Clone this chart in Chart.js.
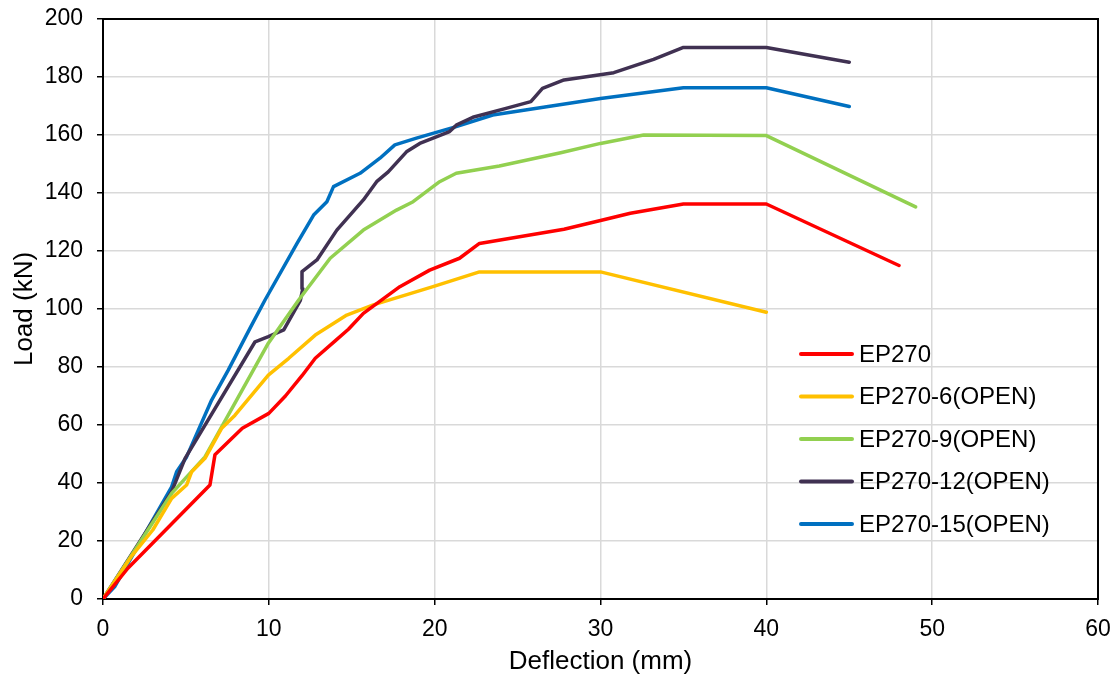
<!DOCTYPE html>
<html lang="en">

<head>
    <meta charset="UTF-8">
    <title>Load - Deflection</title>
    <script src="https://cdn.jsdelivr.net/npm/chart.js@4"></script>
    <style>
        body { margin: 0; background: #fff; }
    </style>
</head>

<body>
    <canvas id="loadChart" width="1116" height="677"></canvas>

    <script>
        // series names
        const seriesNames = ['EP270', 'EP270-6(OPEN)', 'EP270-9(OPEN)', 'EP270-12(OPEN)', 'EP270-15(OPEN)'];
        const seriesColors = ['#FF0000', '#FFC000', '#92D050', '#403152', '#0070C0'];

        // deflection (mm) / load (kN)
        const ep270Defl = [0, 1.5, 6.45, 6.75, 8.4, 10.0, 11.0, 12.0, 12.8, 14.0, 14.8, 15.7, 17.9, 19.7, 21.5, 22.7, 27.8, 30.0, 31.8, 35.0, 40.0, 48.0];
        const ep270Load = [0, 10.6, 39.3, 49.7, 58.9, 64, 70, 77, 83, 89, 93, 98.5, 107.7, 113.4, 117.5, 122.6, 127.5, 130.5, 133, 136.2, 136.2, 115];

        const ep270_6Defl = [0, 1.7, 3.0, 4.14, 5.04, 5.35, 6.15, 7.16, 7.96, 9.97, 11.2, 12.8, 14.7, 16.3, 19.9, 22.7, 30.0, 40.0];
        const ep270_6Load = [0, 14.6, 23.8, 34.7, 39.3, 43.9, 48.5, 58.9, 63.4, 77.2, 83, 91, 97.9, 101.4, 107.7, 112.8, 112.8, 98.9];

        const ep270_9Defl = [0, 4.14, 6.15, 9.97, 11.8, 13.7, 15.7, 17.7, 18.7, 20.3, 21.3, 23.9, 27.6, 30.0, 32.6, 40.0, 49.0];
        const ep270_9Load = [0, 36.4, 49, 88.2, 103.1, 117.5, 127.2, 134.1, 137, 143.9, 146.8, 149.3, 153.9, 157.1, 160, 159.8, 135.2];

        const ep270_12Defl = [0, 4.14, 4.95, 9.17, 9.97, 10.9, 11.9, 12.05, 12.0, 12.9, 14.1, 15.7, 16.5, 17.2, 18.3, 19.1, 20.9, 21.3, 22.3, 24.3, 25.8, 26.5, 27.8, 30.8, 33.2, 35.0, 40.0, 45.0];
        const ep270_12Load = [0, 37, 48.5, 88.7, 90.5, 92.8, 103, 107, 112.9, 116.9, 127.2, 137.6, 143.9, 147.3, 154.2, 157.1, 161.2, 163.4, 166.1, 169.2, 171.5, 176.1, 179, 181.5, 186.1, 190.2, 190.2, 185.1];

        const ep270_15Defl = [0, 0.7, 4.14, 4.44, 5.04, 6.55, 7.56, 8.86, 9.77, 11.7, 12.7, 13.5, 13.9, 15.5, 16.7, 17.6, 18.9, 21.3, 23.5, 30.0, 35.0, 40.0, 45.0];
        const ep270_15Load = [0, 4.2, 38.7, 43.9, 49, 68.6, 79, 93.3, 103.1, 122.6, 132.4, 137, 142.2, 146.8, 152, 156.6, 158.9, 162.9, 166.9, 172.6, 176.3, 176.3, 169.8];

        const allDefl = [ep270Defl, ep270_6Defl, ep270_9Defl, ep270_12Defl, ep270_15Defl];
        const allLoad = [ep270Load, ep270_6Load, ep270_9Load, ep270_12Load, ep270_15Load];

        const FONT = "'Liberation Sans', Arial, sans-serif";

        function toPoints(xs, ys) {
            return xs.map((x, i) => ({ x: x, y: ys[i] }));
        }

        // drop the extra room chart.js keeps for overhanging tick labels
        function noScalePadding(scale) {
            scale.paddingTop = 0;
            scale.paddingBottom = 0;
            scale.paddingLeft = 0;
            scale.paddingRight = 0;
        }

        // legend drawn inside the plot, Excel style
        const insideLegend = {
            id: 'insideLegend',
            afterDraw(chart) {
                const { ctx } = chart;
                ctx.save();
                ctx.font = '24px ' + FONT;
                ctx.textBaseline = 'middle';
                ctx.textAlign = 'left';
                chart.data.datasets.forEach((ds, i) => {
                    const y = 354 + i * 42.5;
                    ctx.strokeStyle = ds.borderColor;
                    ctx.lineWidth = 4;
                    ctx.lineCap = 'round';
                    ctx.beginPath();
                    ctx.moveTo(801, y);
                    ctx.lineTo(852, y);
                    ctx.stroke();
                    ctx.fillStyle = '#000';
                    ctx.fillText(ds.label, 859, y + 1);
                });
                ctx.restore();
            }
        }

        // black frame round the plot area
        const plotFrame = {
            id: 'plotFrame',
            beforeDatasetsDraw(chart) {
                const { ctx, chartArea: { top, left, right, bottom } } = chart;
                ctx.save();
                ctx.strokeStyle = '#000';
                ctx.lineWidth = 2;
                ctx.strokeRect(left, top, right - left, bottom - top);
                ctx.restore();
            }
        }

        const datasets = seriesNames.map((name, i) => ({
            label: name,
            data: toPoints(allDefl[i], allLoad[i]),
            borderColor: seriesColors[i],
            backgroundColor: seriesColors[i],
            borderWidth: 3.5,
            pointRadius: 0,
            showLine: true,
            tension: 0,
            borderCapStyle: 'round',
            borderJoinStyle: 'round'
        }));

        const config = {
            type: 'scatter',
            data: { datasets: datasets },
            options: {
                responsive: false,
                animation: false,
                layout: { padding: { top: 19, right: 18, left: 0, bottom: 0 } },
                plugins: {
                    legend: { display: false },
                    tooltip: { enabled: false }
                },
                scales: {
                    x: {
                        type: 'linear',
                        min: 0,
                        max: 60,
                        afterFit(scale) { scale.height = 78; noScalePadding(scale); },
                        ticks: { stepSize: 10, color: '#000', font: { size: 23, family: FONT }, padding: 11 },
                        grid: { color: '#d9d9d9', lineWidth: 1.5, tickColor: '#000', tickLength: 6 },
                        border: { color: '#000', width: 2 },
                        title: { display: true, text: 'Deflection (mm)', color: '#000', font: { size: 26, family: FONT }, padding: { top: 0, bottom: 0 } }
                    },
                    y: {
                        type: 'linear',
                        min: 0,
                        max: 200,
                        afterFit(scale) { scale.width = 103; noScalePadding(scale); },
                        ticks: { stepSize: 20, color: '#000', font: { size: 23, family: FONT }, padding: 14 },
                        grid: { color: '#d9d9d9', lineWidth: 1.5, tickColor: '#000', tickLength: 6 },
                        border: { color: '#000', width: 2 },
                        title: { display: true, text: 'Load (kN)', color: '#000', font: { size: 26, family: FONT }, padding: { top: 9, bottom: 0 } }
                    }
                }
            },
            plugins: [plotFrame, insideLegend]
        }

        const loadChart = new Chart(document.getElementById('loadChart'), config);
    </script>

</body>

</html>
